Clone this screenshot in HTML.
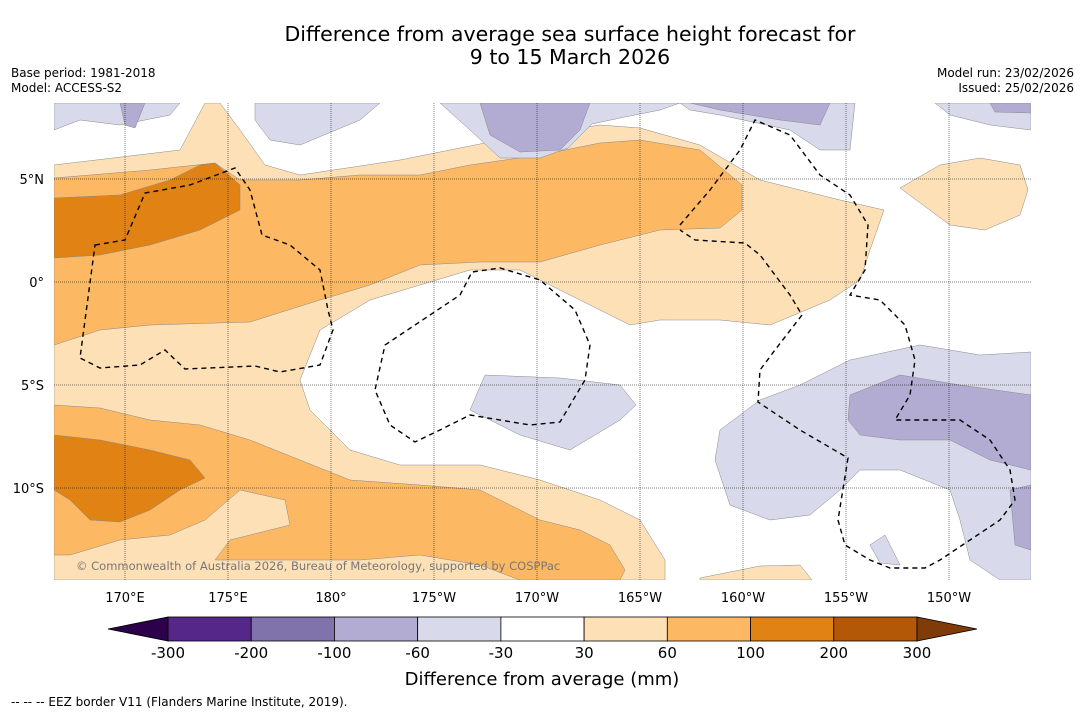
<!DOCTYPE html>
<html><head><meta charset="utf-8">
<style>
body{margin:0;background:#fff;width:1085px;height:713px;overflow:hidden;font-family:"DejaVu Sans","Liberation Sans",sans-serif;}
svg{display:block}
</style></head>
<body>
<svg width="1085" height="713" xmlns="http://www.w3.org/2000/svg">
<text x="570" y="41" font-size="20.5" text-anchor="middle">Difference from average sea surface height forecast for</text>
<text x="570" y="64" font-size="20.5" text-anchor="middle">9 to 15 March 2026</text>
<text x="11" y="77" font-size="12">Base period: 1981-2018</text>
<text x="11" y="92" font-size="12">Model: ACCESS-S2</text>
<text x="1074" y="77" font-size="12" text-anchor="end">Model run: 23/02/2026</text>
<text x="1074" y="92" font-size="12" text-anchor="end">Issued: 25/02/2026</text>

<g id="map">
<clipPath id="clip"><rect x="54" y="103" width="977" height="477"/></clipPath>
<g clip-path="url(#clip)" stroke="#888" stroke-width="0.5">
<rect x="54" y="103" width="977" height="477" fill="#fff" stroke="none"/>
<polygon fill="#fee0b6" points="54,165 180,150 205,103 220,103 240,130 265,165 300,175 400,160 500,140 600,125 640,128 700,145 760,180 840,200 884,210 870,250 860,280 830,300 770,325 720,320 660,320 630,325 580,300 520,270 470,270 420,285 370,300 320,330 300,380 310,410 350,450 400,465 480,465 540,480 600,500 640,520 665,560 665,580 54,580"/>
<polygon fill="#fee0b6" points="900,188 940,165 980,158 1020,165 1028,190 1020,215 985,230 950,225"/>
<polygon fill="#fee0b6" points="700,578 760,566 800,565 812,580 700,580"/>
<polygon fill="#fdb863" points="54,178 150,170 215,163 240,180 300,180 360,175 420,175 470,165 540,155 600,143 640,140 700,150 742,185 742,210 720,228 660,230 600,245 540,262 480,262 420,265 370,285 320,300 250,322 150,325 100,330 54,345"/>
<polygon fill="#e08214" points="54,198 120,195 170,180 200,165 215,163 240,185 240,210 200,230 150,245 100,255 54,258"/>
<polygon fill="#fdb863" points="54,405 100,408 150,420 200,425 250,440 300,460 350,480 420,485 480,490 540,520 580,530 610,545 625,570 620,580 520,580 480,565 420,555 360,560 300,560 260,560 215,560 230,540 290,525 285,500 240,490 205,520 170,535 120,540 70,555 54,555"/>
<polygon fill="#e08214" points="54,435 100,440 150,450 190,460 205,478 180,490 150,510 120,522 90,520 70,500 54,490"/>
<polygon fill="#d8daeb" points="54,103 180,103 170,115 120,125 80,120 54,130"/>
<polygon fill="#d8daeb" points="255,103 380,103 360,120 300,145 270,140 255,120"/>
<polygon fill="#d8daeb" points="440,103 680,103 660,110 620,118 592,124 568,148 540,158 500,158 470,130"/>
<polygon fill="#d8daeb" points="680,103 855,103 850,150 820,150 790,130 720,115 690,110"/>
<polygon fill="#d8daeb" points="935,103 1031,103 1031,130 990,125 950,115"/>
<polygon fill="#d8daeb" points="485,375 560,378 620,385 636,405 620,420 570,450 520,435 470,410"/>
<polygon fill="#d8daeb" points="720,430 760,400 800,385 850,360 920,345 980,355 1031,352 1031,580 1000,580 970,560 960,520 950,490 900,470 860,470 840,490 810,515 770,520 730,505 715,460"/>
<polygon fill="#d8daeb" points="870,545 885,535 900,565 880,563"/>
<polygon fill="#b2abd2" points="120,103 145,103 135,128 125,125"/>
<polygon fill="#b2abd2" points="480,103 590,103 580,130 560,150 520,152 490,135"/>
<polygon fill="#b2abd2" points="690,103 830,103 820,125 780,120 720,110"/>
<polygon fill="#b2abd2" points="990,103 1031,103 1031,113 995,112"/>
<polygon fill="#b2abd2" points="850,395 900,375 960,385 1031,395 1031,470 990,460 950,440 900,440 860,435 848,420"/>
<polygon fill="#b2abd2" points="1010,490 1031,485 1031,550 1015,545"/>
</g>
<g id="grid" stroke="#000" stroke-width="0.5" stroke-dasharray="1,1"></g>
<g fill="none" stroke="#000" stroke-width="1.4" stroke-dasharray="5,4">
<polygon points="95,245 125,240 145,193 190,185 235,168 250,190 262,235 290,245 320,270 328,310 333,330 320,365 280,372 255,366 185,369 165,350 140,365 100,368 80,358"/>
<polygon points="385,345 430,315 460,295 472,272 500,268 540,280 575,310 590,345 585,380 560,422 530,425 470,415 440,430 415,442 390,425 375,390"/>
<polyline points="680,225 710,190 740,150 755,120 790,135 820,175 850,195 868,225 865,270 850,295 880,300 905,325 915,360 910,395 895,420 925,420 960,420 990,440 1010,470 1015,500 1000,520 970,540 940,560 925,568 890,568 870,560 845,545 838,520 848,458 800,430 758,402 760,370 775,350 802,315 790,295 760,255 745,243 695,240 680,230"/>
</g>
<text x="76" y="570" font-size="11.5" fill="#777">© Commonwealth of Australia 2026, Bureau of Meteorology, supported by COSPPac</text>
</g>
<g id="axes" font-size="13"></g>
<g id="cbar"></g>
<text x="542" y="685" font-size="18" text-anchor="middle">Difference from average (mm)</text>
<text x="11" y="706" font-size="12">-- -- -- EEZ border V11 (Flanders Marine Institute, 2019).</text>
</svg>
<script>
const lonTicks=[170,175,180,-175,-170,-165,-160,-155,-150];
const lonLabels=["170°E","175°E","180°","175°W","170°W","165°W","160°W","155°W","150°W"];
const latTicks=[5,0,-5,-10];
const latLabels=["5°N","0°","5°S","10°S"];
const cbBounds=[-300,-200,-100,-60,-30,30,60,100,200,300];
const cbColors=["#542788","#8073ac","#b2abd2","#d8daeb","#ffffff","#fee0b6","#fdb863","#e08214","#b35806"];
const NS="http://www.w3.org/2000/svg";
function xLon(l){const e=l<0?360+l:l;return 125+(e-170)*20.6;}
function yLat(l){return 282-l*20.6;}
const grid=document.getElementById('grid'),axes=document.getElementById('axes'),cb=document.getElementById('cbar');
function mk(tag,at,par){const e=document.createElementNS(NS,tag);for(const k in at)e.setAttribute(k,at[k]);par.appendChild(e);return e;}
lonTicks.forEach((l,i)=>{const x=xLon(l);
const g=mk('line',{x1:x,x2:x,y1:103,y2:580},grid);


const t=mk('text',{x:x,y:602,'text-anchor':'middle'},axes);t.textContent=lonLabels[i];

});
latTicks.forEach((l,i)=>{const y=yLat(l);
const g=mk('line',{x1:54,x2:1031,y1:y,y2:y},grid);


const t=mk('text',{x:44,y:y+5,'text-anchor':'end'},axes);t.textContent=latLabels[i];

});
const cx0=168,cx1=917,bw=(cx1-cx0)/cbColors.length,cy=617,ch=24;
cbColors.forEach((c,i)=>{const r=mk('rect',{x:cx0+i*bw,y:cy,width:bw,height:ch,fill:c,stroke:'#000','stroke-width':0.8},cb);

});
const lt=mk('polygon',{points:`108,${cy+ch/2} ${cx0},${cy} ${cx0},${cy+ch}`,fill:'#2d004b',stroke:'#000','stroke-width':0.8},cb);


const rt=mk('polygon',{points:`977,${cy+ch/2} ${cx1},${cy} ${cx1},${cy+ch}`,fill:'#7f3b08',stroke:'#000','stroke-width':0.8},cb);


cbBounds.forEach((b,i)=>{const t=mk('text',{x:cx0+i*bw,y:658,'text-anchor':'middle','font-size':15},cb);t.textContent=b;

});
</script>
</body></html>
